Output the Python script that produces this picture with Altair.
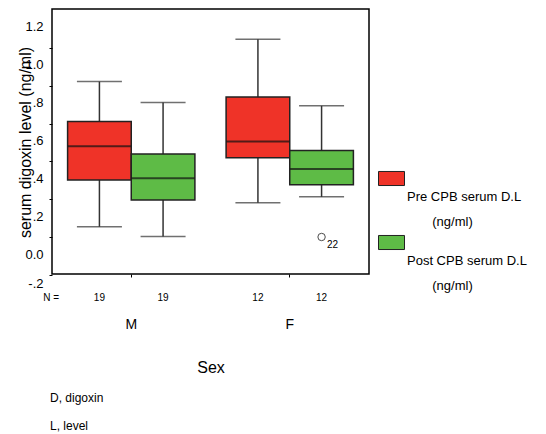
import altair as alt
import pandas as pd

# ---- data ----
sexes = ["M", "F"]
series_names = ["Pre CPB serum D.L (ng/ml)", "Post CPB serum D.L (ng/ml)"]
series_colors = ["#EF3328", "#5EBB46"]

box_sex = ["M", "M", "F", "F"]
box_series = [series_names[0], series_names[1], series_names[0], series_names[1]]
whisker_low = [0.144, 0.093, 0.271, 0.302]
q1 = [0.391, 0.285, 0.508, 0.366]
median = [0.570, 0.401, 0.594, 0.449]
q3 = [0.700, 0.529, 0.829, 0.547]
whisker_high = [0.911, 0.800, 1.135, 0.783]
n_count = [19, 19, 12, 12]

outlier_sex = ["F"]
outlier_series = [series_names[1]]
outlier_value = [0.09]
outlier_label = ["22"]

y_tick_values = [1.2, 1.0, 0.8, 0.6, 0.4, 0.2, 0.0, -0.1]
y_tick_labels = ["1.2", "1.0", ".8", ".6", ".4", ".2", "0.0", "-.2"]
footnotes = ["D, digoxin", "L, level"]

boxes = pd.DataFrame({
    "sex": box_sex, "series": box_series, "lo": whisker_low, "q1": q1,
    "med": median, "q3": q3, "hi": whisker_high, "n": n_count,
})
outliers = pd.DataFrame({"sex": outlier_sex, "series": outlier_series,
                         "v": outlier_value, "lab": outlier_label})

FONT = "Liberation Sans"
W, H = 317, 265

label_expr = "".join(
    f"abs(datum.value - ({v})) < 0.01 ? '{l}' : " for v, l in zip(y_tick_values, y_tick_labels)
) + "''"

y_axis = alt.Axis(
    title="serum digoxin level (ng/ml)",
    values=y_tick_values,
    labelExpr=label_expr,
    domain=False,
    tickSize=3,
    tickWidth=1,
    tickColor="#000",
    tickOffset=21,
    tickOpacity={"condition": {"test": "datum.value < -0.05", "value": 0}, "value": 1},
    labelOffset={"condition": {"test": "datum.value < -0.05", "value": -10}, "value": -21},
    labelPadding=6,
    labelFontSize=13,
    labelColor="#000",
    labelFont=FONT,
    titleFont=FONT,
    titleFontSize=16,
    titleFontWeight="normal",
    titleColor="#000",
    titleX=-27,
    titleY=133,
    titleAngle=-90,
    titleBaseline="middle",
    titleAlign="center",
    grid=False,
)

x_axis = alt.Axis(
    title="Sex",
    labelAngle=0,
    domain=False,
    tickSize=3,
    tickColor="#000",
    labelPadding=40,
    labelFontSize=14,
    labelColor="#000",
    labelFont=FONT,
    titleFont=FONT,
    titleFontSize=16,
    titleFontWeight="normal",
    titleColor="#000",
    titleY=93,
    titleBaseline="middle",
    grid=False,
)

y_scale = alt.Scale(domain=[-0.1055, 1.2945], nice=False, zero=False)
x_enc = alt.X("sex:N", sort=sexes, scale=alt.Scale(domain=sexes, paddingInner=0, paddingOuter=0), axis=x_axis)
xo_enc = alt.XOffset("series:N", sort=series_names,
                     scale=alt.Scale(domain=series_names, paddingInner=0, paddingOuter=0.245))

ZW = "\u200b"
NB = "\u00a0"
legend_label_expr = (f"['{ZW}', split(datum.label, ' (')[0], '{ZW}', "
                     f"'{ZW}{NB * 7}(' + split(datum.label, ' (')[1]]")

legend = alt.Legend(
    title=None,
    orient="none",
    legendX=326,
    legendY=156,
    padding=0,
    symbolType="M-1,-0.54L1,-0.54L1,0.54L-1,0.54Z",
    symbolSize=676,
    symbolStrokeColor="#222",
    symbolStrokeWidth=1,
    labelFontSize=13,
    labelFont=FONT,
    labelColor="#000",
    labelBaseline="top",
    labelOffset=2,
    labelLimit=300,
    labelExpr=legend_label_expr,
    rowPadding=0,
)

base = alt.Chart(boxes)

bars = base.mark_bar(stroke="#222", strokeWidth=1.5).encode(
    x=x_enc, xOffset=xo_enc,
    y=alt.Y("q1:Q", scale=y_scale, axis=y_axis),
    y2="q3:Q",
    color=alt.Color("series:N", sort=series_names,
                    scale=alt.Scale(domain=series_names, range=series_colors), legend=legend),
)

whisk_lo = base.mark_rule(color="#333", strokeWidth=1.5).encode(
    x=x_enc, xOffset=xo_enc,
    y=alt.Y("lo:Q", scale=y_scale, axis=y_axis), y2="q1:Q",
)
whisk_hi = base.mark_rule(color="#333", strokeWidth=1.5).encode(
    x=x_enc, xOffset=xo_enc,
    y=alt.Y("q3:Q", scale=y_scale, axis=y_axis), y2="hi:Q",
)
cap_lo = base.mark_tick(color="#333", size=45, thickness=1.5).encode(
    x=x_enc, xOffset=xo_enc, y=alt.Y("lo:Q", scale=y_scale, axis=y_axis),
)
cap_hi = base.mark_tick(color="#333", size=45, thickness=1.5).encode(
    x=x_enc, xOffset=xo_enc, y=alt.Y("hi:Q", scale=y_scale, axis=y_axis),
)
med_line = base.mark_tick(color="#111", size=63, thickness=2).encode(
    x=x_enc, xOffset=xo_enc, y=alt.Y("med:Q", scale=y_scale, axis=y_axis),
)

out_pt = alt.Chart(outliers).mark_point(shape="circle", filled=False, size=55,
                                        color="#000", strokeWidth=1).encode(
    x=x_enc, xOffset=xo_enc, y=alt.Y("v:Q", scale=y_scale, axis=y_axis),
)
out_txt = alt.Chart(outliers).mark_text(dx=11, dy=8, fontSize=10, font=FONT, color="#000").encode(
    x=x_enc, xOffset=xo_enc, y=alt.Y("v:Q", scale=y_scale, axis=y_axis), text="lab:N",
)

n_txt = base.mark_text(fontSize=10, font=FONT, color="#000").encode(
    x=x_enc, xOffset=xo_enc, y=alt.value(H + 24), text="n:Q",
)
n_head = alt.Chart(pd.DataFrame({"t": ["N ="]})).mark_text(
    fontSize=10, font=FONT, color="#000", align="right").encode(
    x=alt.value(7), y=alt.value(H + 24), text="t:N",
)
foot1 = alt.Chart(pd.DataFrame({"t": [footnotes[0]]})).mark_text(
    fontSize=12, font=FONT, color="#000", align="left").encode(
    x=alt.value(-2), y=alt.value(389), text="t:N",
)
foot2 = alt.Chart(pd.DataFrame({"t": [footnotes[1]]})).mark_text(
    fontSize=12, font=FONT, color="#000", align="left").encode(
    x=alt.value(-2), y=alt.value(417), text="t:N",
)

chart = alt.layer(
    whisk_lo, whisk_hi, cap_lo, cap_hi, bars, med_line, out_pt, out_txt,
    n_txt, n_head, foot1, foot2,
).properties(
    width=W, height=H,
    padding={"left": 52, "top": 9, "right": 177, "bottom": 160},
    autosize=alt.AutoSizeParams(type="none"),
).configure(
    font=FONT,
    style={"guide-label": {"lineHeight": 12.4}},
).configure_view(
    stroke="#000", strokeWidth=1.5,
)

chart.save("out.html", embed_options={"renderer": "svg", "actions": False})
